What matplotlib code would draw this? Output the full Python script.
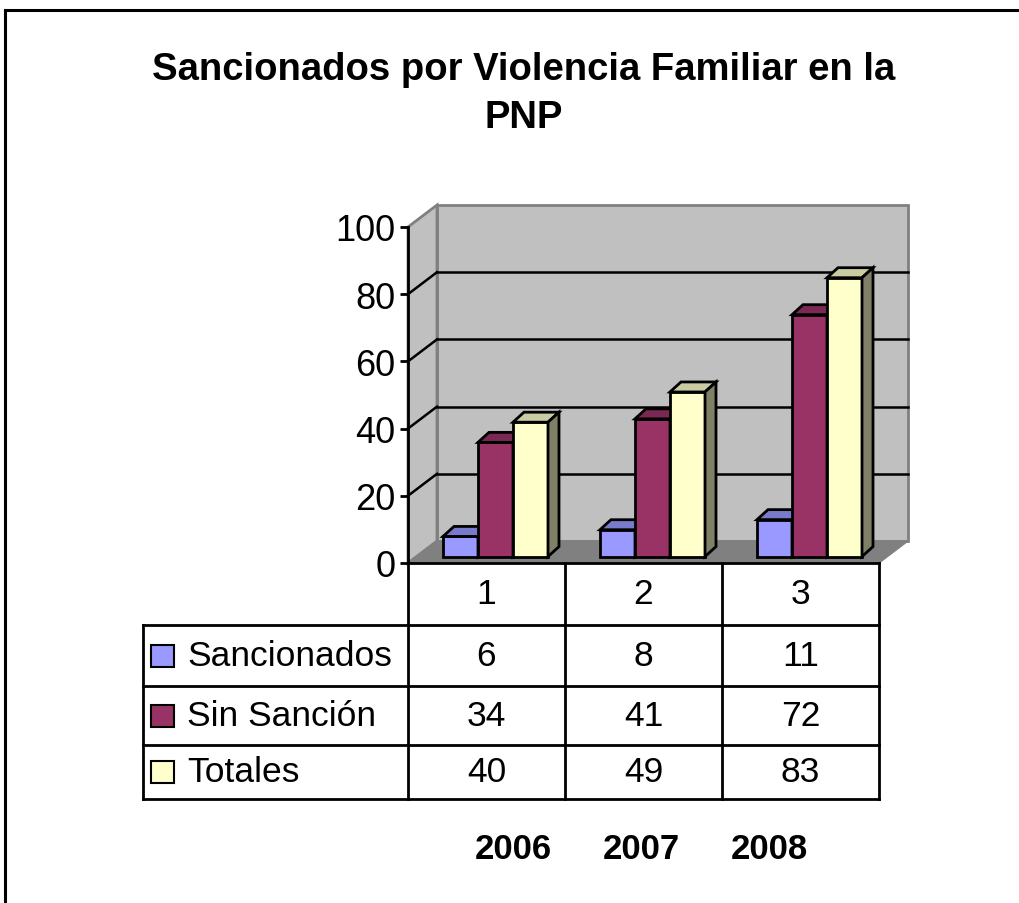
import matplotlib
matplotlib.use("Agg")
import matplotlib.pyplot as plt
from matplotlib.patches import Polygon
from matplotlib.lines import Line2D

plt.rcParams['font.family'] = ['Liberation Sans', 'DejaVu Sans']

# data
categorias = ['1', '2', '3']
anios = ['2006', '2007', '2008']
series = ['Sancionados', 'Sin Sanción', 'Totales']
sancionados = [6, 8, 11]
sin_sancion = [34, 41, 72]
totales = [40, 49, 83]
valores = [sancionados, sin_sancion, totales]
colores = ['#9999FF', '#993366', '#FFFFCC']
techos = ['#7A7ACC', '#7A2952', '#CCCCA3']
lados = ['#4D4D80', '#4D1A33', '#808066']

W, H = 1019, 904
fig = plt.figure(figsize=(W / 100, H / 100), dpi=100)

# plot area: x in categories (0..3), y in values (0..100)
x0, x1, y0, y1 = 408, 879, 564, 228
ax = fig.add_axes([x0 / W, 1 - y0 / H, (x1 - x0) / W, (y0 - y1) / H])
ax.set_xlim(0, 3)
ax.set_ylim(0, 100)
px = (x1 - x0) / 3.0          # pixels per category
py = (y0 - y1) / 100.0        # pixels per value unit

# depth of the walls and of the bars (in data units)
DX, DY = 29 / px, 22 / py
fx, fy = 8.4 / px, 6.4 / py
bdx, bdy = 11 / px, 10 / py
ancho = 35 / px
inicio = 26.6 / px


def poly(pts, fc, ec='black', lw=2.0, z=1):
    p = Polygon(pts, closed=True, facecolor=fc, edgecolor=ec, linewidth=lw,
                joinstyle='miter', clip_on=False, zorder=z)
    ax.add_patch(p)


# walls and floor
poly([(DX, DY), (3 + DX, DY), (3 + DX, 100 + DY), (DX, 100 + DY)], '#C0C0C0', '#808080', 2, 1)
poly([(0, 0), (DX, DY), (DX, 100 + DY), (0, 100)], '#C0C0C0', '#808080', 2, 1)
poly([(0, 0), (3, 0), (3 + DX, DY), (DX, DY)], '#808080', '#808080', 1, 1)

for v in [20, 40, 60, 80]:
    ax.plot([DX, 3 + DX], [v + DY, v + DY], color='black', lw=1.8, zorder=2, clip_on=False)
    ax.plot([0, DX], [v, v + DY], color='black', lw=1.8, zorder=2, clip_on=False)

# bars
z = 3
for i in range(len(categorias)):
    for s in range(len(series)):
        v = valores[s][i]
        xl = i + inicio + s * ancho + fx
        xr = xl + ancho
        yb, yt = fy, fy + v
        poly([(xl, yb), (xr, yb), (xr, yt), (xl, yt)], colores[s], z=z)
        poly([(xl, yt), (xr, yt), (xr + bdx, yt + bdy), (xl + bdx, yt + bdy)], techos[s], z=z)
        poly([(xr, yb), (xr + bdx, yb + bdy), (xr + bdx, yt + bdy), (xr, yt)], lados[s], z=z)
        z += 1

# axes styling
for side in ['top', 'right']:
    ax.spines[side].set_visible(False)
ax.spines['left'].set_linewidth(2)
ax.spines['bottom'].set_linewidth(2)
ax.spines['left'].set_zorder(50)
ax.spines['bottom'].set_zorder(50)
ax.set_yticks([0, 20, 40, 60, 80, 100])
ax.set_xticks([])
ax.tick_params(axis='y', length=6, width=2, labelsize=26, pad=3)
ax.patch.set_visible(False)

# data table
filas = [0, -62 / py, -123 / py, -182 / py, -236 / py]
xizq = (143 - x0) / px
lk = dict(color='black', lw=2, clip_on=False, zorder=60)
for c in range(4):
    ax.plot([c, c], [0, filas[-1]], **lk)
for r in filas[1:]:
    ax.plot([xizq, 3], [r, r], **lk)
ax.plot([xizq, xizq], [filas[1], filas[-1]], **lk)

for i, cat in enumerate(categorias):
    ax.text(i + 0.5, (filas[0] + filas[1]) / 2, cat, ha='center', va='center', fontsize=25.5)
for s in range(len(series)):
    yc = (filas[s + 1] + filas[s + 2]) / 2
    ks = 23 / px
    kh = 22 / py
    kx = (151 - x0) / px
    poly([(kx, yc - kh / 2), (kx + ks, yc - kh / 2), (kx + ks, yc + kh / 2), (kx, yc + kh / 2)],
         colores[s], lw=1.5, z=60)
    ax.text((187 - x0) / px, yc, series[s], ha='left', va='center', fontsize=25.5)
    for i in range(len(categorias)):
        ax.text(i + 0.5, yc, str(valores[s][i]), ha='center', va='center', fontsize=25.5)

# title and years
fig.text(524 / W, 1 - 70 / H, 'Sancionados por Violencia Familiar en la',
         ha='center', va='center', fontsize=27.5, fontweight='bold')
fig.text(524 / W, 1 - 118 / H, 'PNP', ha='center', va='center', fontsize=27.5, fontweight='bold')
for xa, a in zip([513, 641, 769], anios):
    fig.text(xa / W, 1 - 850 / H, a, ha='center', va='center', fontsize=25, fontweight='bold')

# frame of the picture
fig.add_artist(Line2D([5 / W, 5 / W], [0, 1 - 11 / H], color='black', lw=2.2))
fig.add_artist(Line2D([5 / W, 1], [1 - 11 / H, 1 - 11 / H], color='black', lw=2.2))

fig.savefig('out.png', dpi=100)
